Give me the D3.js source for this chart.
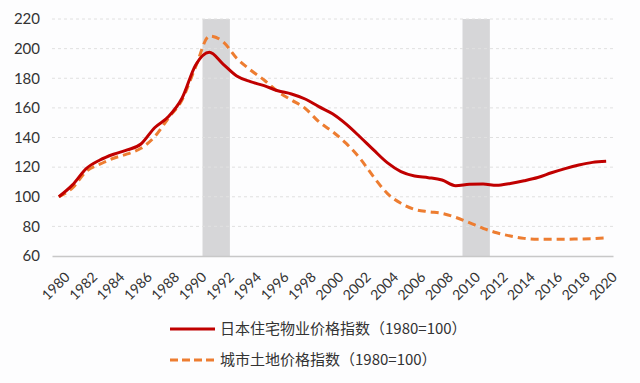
<!DOCTYPE html>
<html><head><meta charset="utf-8">
<script src="https://cdn.jsdelivr.net/npm/d3@7"></script>
<style>body{margin:0;background:#fdfdfe}svg{display:block}</style>
</head><body><svg id="c" width="640" height="383"></svg>
<script>
const years = d3.range(1980, 2021);
const housing = [100,108,119,124.8,128.7,131.6,135.6,146.6,154,166.5,189,197.5,189.6,181.5,177.7,175,171.6,169.4,166,160.8,156,149,140.5,131.6,123,117,114,112.9,111.3,107.5,108.4,108.6,107.7,109,110.8,113,116.2,119,121.4,123.2,123.9];
const land = [100,106,117,122,126,128.9,132.7,140.5,153,165.3,187.8,208.5,204.7,193.5,185.6,178.8,171,165.3,159.7,150.7,144,136,126,113.5,102.3,95.6,91.5,89.9,88.8,86.1,82.5,78.7,75.7,73.5,71.9,71.3,71.3,71.3,71.5,71.7,72.2];
const yTicks = [60,80,100,120,140,160,180,200,220];
const xTickYears = d3.range(1980, 2021, 2);
const shaded = [[1991,1992],[2010,2011]];
const seriesNames = ["日本住宅物业价格指数（1980=100）","城市土地价格指数（1980=100）"];

const svg = d3.select("#c");
const x = d3.scaleBand().domain(years).range([52, 613]);
const y = d3.scaleLinear().domain([60, 220]).range([256, 19]);
const cx = d => x(d) + x.bandwidth()/2;

svg.append("g").selectAll("rect").data(shaded).join("rect")
  .attr("x", d => x(d[0])).attr("width", d => x(d[1]) + x.bandwidth() - x(d[0]))
  .attr("y", y(220)).attr("height", y(60) - y(220)).attr("fill", "#d6d6d8");

svg.append("g").selectAll("line").data(yTicks.filter(t => t > 60)).join("line")
  .attr("x1", 52).attr("x2", 613).attr("y1", d => y(d)).attr("y2", d => y(d))
  .attr("stroke", "#e0e0e0").attr("stroke-dasharray", "3,3").attr("stroke-width", 1);

const yAxis = svg.append("g").attr("transform", "translate(40,0)")
  .call(d3.axisLeft(y).tickValues(yTicks).tickSize(0).tickPadding(0));
yAxis.select(".domain").remove();
yAxis.selectAll("text").attr("font-family", "Lato, 'Open Sans', sans-serif").attr("font-size", 15).attr("fill", "#333");

const xAxis = svg.append("g").attr("transform", `translate(0,${y(60)})`)
  .call(d3.axisBottom(x).tickValues(xTickYears).tickSize(0).tickPadding(0));
xAxis.select(".domain").attr("stroke", "#c8c8c8").attr("stroke-width", 1.5);
xAxis.selectAll("text")
  .attr("font-family", "Lato, 'Open Sans', sans-serif").attr("font-size", 14).attr("fill", "#333")
  .attr("text-anchor", "end").attr("dy", "0.7em")
  .attr("transform", "translate(5,15) rotate(-45)");

const line = d3.line().x((d,i) => cx(years[i])).y(d => y(d)).curve(d3.curveMonotoneX);

svg.append("path").datum(land).attr("d", line).attr("fill", "none")
  .attr("stroke", "#ED7D31").attr("stroke-width", 3).attr("stroke-dasharray", "8,5");
svg.append("path").datum(housing).attr("d", line).attr("fill", "none")
  .attr("stroke", "#C00000").attr("stroke-width", 3);

const lg = svg.append("g");
lg.append("line").attr("x1", 170).attr("x2", 215).attr("y1", 329).attr("y2", 329)
  .attr("stroke", "#C00000").attr("stroke-width", 3);
lg.append("line").attr("x1", 170).attr("x2", 215).attr("y1", 360).attr("y2", 360)
  .attr("stroke", "#ED7D31").attr("stroke-width", 3).attr("stroke-dasharray", "8,4");
lg.selectAll("text").data(seriesNames).join("text")
  .attr("x", 220).attr("y", (d,i) => 329 + i*31).attr("dy", "0.35em")
  .attr("font-family", "'Noto Sans CJK SC', sans-serif").attr("font-size", 15).attr("fill", "#333")
  .text(d => d);
</script></body></html>
